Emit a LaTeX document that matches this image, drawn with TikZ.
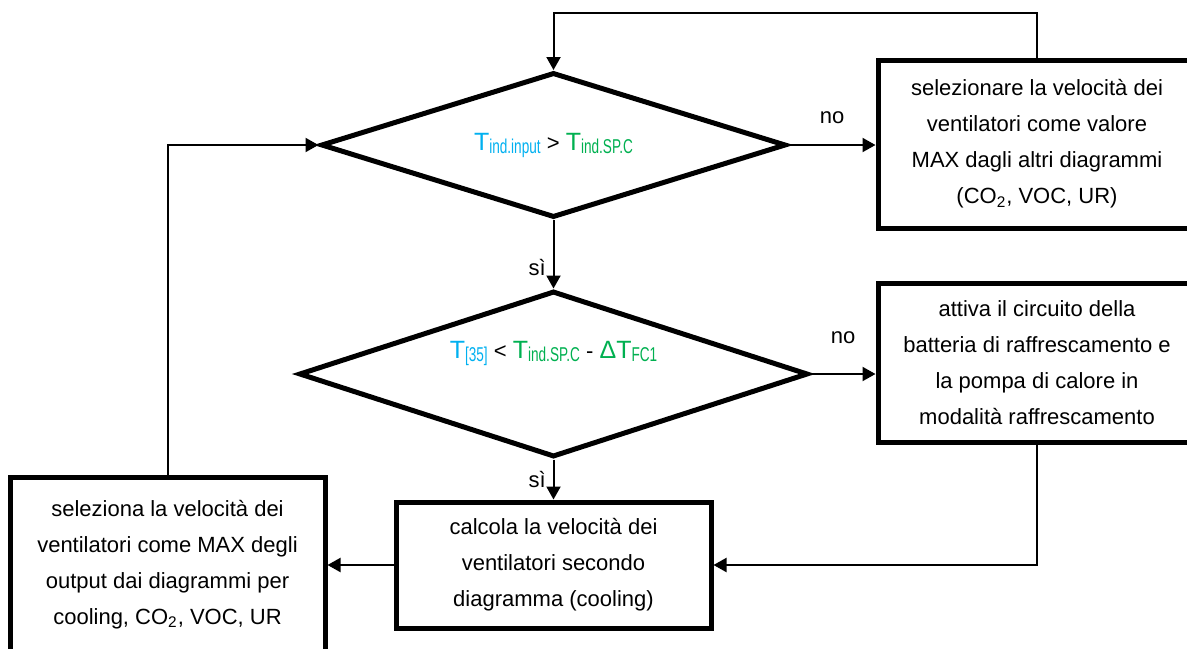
\documentclass[tikz,border=0pt]{standalone}
\usepackage{fontspec}
\setmainfont{Liberation Sans}
\usepackage{xcolor}
\usepackage{graphicx}
\usetikzlibrary{shapes.geometric, arrows.meta}
\definecolor{tin}{RGB}{0,176,240}
\definecolor{tsp}{RGB}{0,176,80}
% T with a narrow subscript
\newcommand{\tvar}[1]{{\fontsize{12.5}{15}\selectfont T}\raisebox{-1.5pt}{\scalebox{0.68}[1]{\fontsize{10}{12}\selectfont #1}}}

\begin{document}
\begin{tikzpicture}[x=0.5pt, y=-0.5pt,
        font=\fontsize{11}{18}\selectfont,
        box/.style={draw, line width=2.5pt, align=center, minimum width=157.5pt, inner sep=0pt},
        cond/.style={draw, diamond, line width=2.5pt, inner sep=0pt},
        flow/.style={line width=1pt, -{Triangle[length=6.5pt, width=7pt]}}]
    \path[use as bounding box, clip] (0,0) rectangle (1187,648);
    % decisions
    \node[cond, aspect=3.2, minimum width=232.5pt, minimum height=72.5pt] (q1) at (553.5,145)
        {{\color{tin}\tvar{ind.input}} > {\color{tsp}\tvar{ind.SP.C}}};
    \node[cond, aspect=3.07, minimum width=254.5pt, minimum height=83pt,
        label={[yshift=10.5pt]center:{{\color{tin}\tvar{[35]}} < {\color{tsp}\tvar{ind.SP.C}} - {\color{tsp}{\fontsize{12.5}{15}\selectfont Δ}\tvar{FC1}}}}]
        (q2) at (553.5,374) {};
    % actions (the right ones run past the edge)
    \node[box, minimum width=170pt, minimum height=84pt,
        label={[xshift=-5.5pt, align=center]center:{selezionare la velocità dei\\ventilatori come valore\\MAX dagli altri diagrammi\\(CO\textsubscript{2}, VOC, UR)}}]
        (n1) at (1048,144) {};
    \node[box, minimum width=170pt, minimum height=79.5pt,
        label={[xshift=-5.5pt, align=center]center:{attiva il circuito della\\batteria di raffrescamento e\\la pompa di calore in\\modalità raffrescamento}}]
        (n2) at (1048,362.5) {};
    \node[box, minimum height=63pt] (c) at (553.5,565)
        {calcola la velocità dei\\ventilatori secondo\\diagramma (cooling)};
    \node[box, minimum height=87.5pt] (s) at (167.5,564.5)
        {seleziona la velocità dei\\ventilatori come MAX degli\\output dai diagrammi per\\cooling, CO\textsubscript{2}, VOC, UR};
    \coordinate (t) at (553.5,13);
    % connectors
    \draw[flow] (q1.east) -- node[above=7pt] {no} (n1.west |- q1.east);
    \draw[flow] (q1.south) -- node[left, pos=0.7] {sì} (q2.north);
    \draw[flow] (q2.east) -- node[above=11.5pt] {no} (n2.west |- q2.east);
    \draw[flow] (q2.south) -- node[left] {sì} (c.north);
    \draw[flow] ([xshift=-5.5pt]n2.south) |- (c.east);
    \draw[flow] (c.west) -- (s.east |- c.west);
    \draw[flow] (s.north) |- (q1.west);
    \draw[flow] ([xshift=-5.5pt]n1.north) |- (t) -- (q1.north);
\end{tikzpicture}
\end{document}
